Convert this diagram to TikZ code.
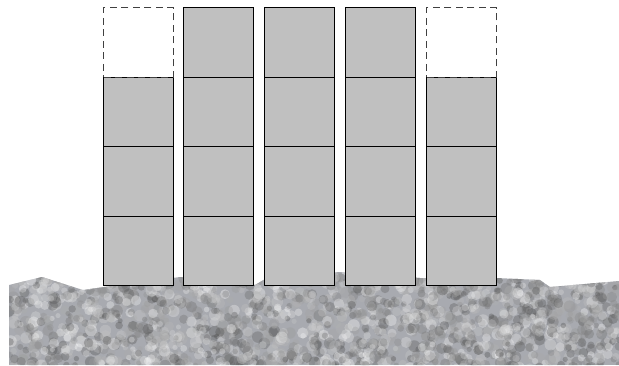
\documentclass[tikz,border=0pt]{standalone}
\usepackage{xcolor}
\usepackage{tikz}
\usetikzlibrary{positioning}

\definecolor{boxgray}{RGB}{192,192,192}
\definecolor{stonegray}{RGB}{168,170,176}

\begin{document}
\begin{tikzpicture}[
  x=1pt, y=-1pt,
  block/.style={draw=black, fill=boxgray, line width=1.4pt, outer sep=0pt,
    inner sep=0pt, minimum size=69.5pt},
  ghost/.style={draw=black!75, line width=1.2pt, dash pattern=on 7pt off 4.5pt,
    outer sep=0pt, inner sep=0pt, minimum size=69.5pt}
]
\useasboundingbox (0,0) rectangle (619,365);

% ground
\begin{scope}
  \clip (9,285) -- (42,277) -- (83,290) -- (104,287) -- (180,277) -- (255,285)
    -- (265,279) -- (340,272) -- (420,278) -- (496,278) -- (540,280)
    -- (550,287) -- (619,281) -- (619,365) -- (9,365) -- cycle;
  \fill[stonegray] (0,260) rectangle (619,365);
  \pgfmathsetseed{17}
  \foreach \i in {1,...,2200} {
    \pgfmathsetmacro\gx{9+610*rnd}
    \pgfmathsetmacro\gy{262+106*rnd}
    \pgfmathtruncatemacro\gs{70*rnd}
    \pgfmathsetmacro\gr{2.5+3.5*rnd}
    \fill[black!\gs, opacity=.35] (\gx,\gy) circle[radius=\gr];
  }
\end{scope}

% columns
\foreach \c/\x in {1/138.5, 2/218.5, 3/299.5, 4/380.5, 5/461.5} {
  \node (b\c1) [block] at (\x,251) {};
  \node (b\c2) [block, above=0pt of b\c1] {};
  \node (b\c3) [block, above=0pt of b\c2] {};
}
\foreach \c in {2,3,4}
  \node (b\c4) [block, above=0pt of b\c3] {};
\foreach \c in {1,5}
  \node (g\c) [ghost, above=0pt of b\c3] {};
\end{tikzpicture}
\end{document}
